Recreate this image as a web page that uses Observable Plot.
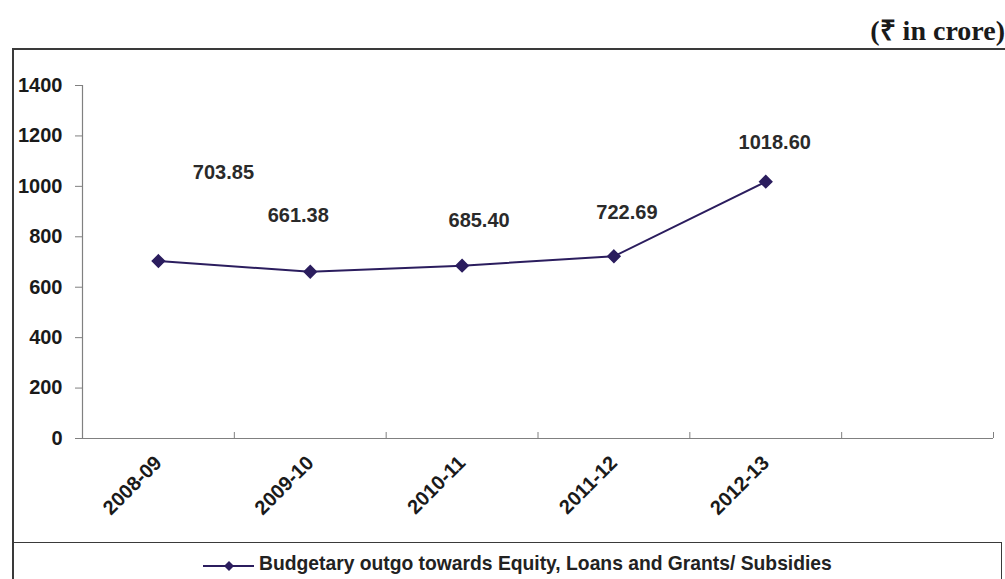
<!DOCTYPE html>
<html>
<head>
<meta charset="utf-8">
<script src="https://cdn.jsdelivr.net/npm/d3@7"></script>
<script src="https://cdn.jsdelivr.net/npm/@observablehq/plot@0.6"></script>
<style>
  html, body { margin: 0; padding: 0; background: #fff; overflow: hidden; }
  #wrap { position: relative; width: 1005px; height: 579px; overflow: hidden; font-family: "Liberation Sans", Arial, sans-serif; }
  #title { position: absolute; right: 0px; top: 10px; font-family: "Liberation Serif", "Times New Roman", serif; font-weight: bold; font-size: 28px; color: #1a1a1a; white-space: nowrap; }
  #frame { position: absolute; left: 12px; top: 48px; width: 1010px; height: 600px; border: 2px solid #3a3a3a; box-sizing: border-box; }
  #chart { position: absolute; left: 0; top: 0; }
  #legend { position: absolute; left: 12px; top: 542px; width: 990px; height: 60px; border: 1.5px solid #3a3a3a; box-sizing: border-box; }
  #legend svg { position: absolute; left: 189px; top: 16px; }
  #legend span { position: absolute; left: 246px; top: 10px; font-weight: bold; font-size: 19.3px; color: #222; white-space: nowrap; }
  #chart svg [aria-label^="y-axis"] line, #chart svg [aria-label^="y-axis"] path { stroke: #808080; }
</style>
</head>
<body>
<div id="wrap">
  <div id="frame"></div>
  <div id="title"></div>
  <div id="chart"></div>
  <div id="legend"></div>
</div>
<script>
const years = ["2008-09", "2009-10", "2010-11", "2011-12", "2012-13"];
const outgo = [703.85, 661.38, 685.40, 722.69, 1018.60];
const yTicks = [0, 200, 400, 600, 800, 1000, 1200, 1400];
const titleText = "(\u20B9 in crore)";
const seriesName = "Budgetary outgo towards Equity, Loans and Grants/ Subsidies";
const emptySlots = 1; // one empty category slot after the last year

// layout constants (not data)
const W = 1005, H = 579;
const M = {left: 82, right: 12, top: 85, bottom: 141};
const labelOffsets = [[65, -88], [-12, -56], [17, -45], [13, -44], [9, -39]];
const lineColor = "#2b1d5e";

const data = years.map((y, i) => ({i, year: y, value: outgo[i]}));
const nSlots = years.length + emptySlots;
const boundaries = d3.range(nSlots + 1).map(k => k - 0.5);
const plotH = H - M.top - M.bottom;
const yMax = yTicks[yTicks.length - 1];
const tickLen = 6 * yMax / plotH;

const marks = [
  Plot.ruleY([0], {stroke: "#808080", strokeWidth: 1.2}),
  Plot.ruleX([boundaries[0]], {y1: 0, y2: yMax, stroke: "#808080", strokeWidth: 1.2}),
  Plot.ruleX(boundaries.slice(1), {y1: 0, y2: tickLen, stroke: "#808080"}),
  Plot.text(data, {x: "i", y: 0, text: "year", rotate: -45, textAnchor: "end", dx: 0, dy: 21, fill: "#1a1a1a", fontWeight: "bold", fontSize: 20}),
  Plot.line(data, {x: "i", y: "value", stroke: lineColor, strokeWidth: 2}),
  Plot.dot(data, {x: "i", y: "value", symbol: "diamond2", r: 5.5, fill: lineColor, stroke: lineColor}),
  ...data.map((d, k) => Plot.text([d], {
    x: "i", y: "value", text: v => v.value.toFixed(2),
    dx: labelOffsets[k][0], dy: labelOffsets[k][1],
    fill: "#2a2a2a", fontWeight: "bold", fontSize: 20
  }))
];

const chart = Plot.plot({
  width: W, height: H,
  marginLeft: M.left, marginRight: M.right, marginTop: M.top, marginBottom: M.bottom,
  style: {background: "transparent", fontFamily: "'Liberation Sans', Arial, sans-serif", fontSize: "20px", fontWeight: "bold", color: "#1a1a1a", overflow: "visible"},
  x: {type: "linear", domain: [boundaries[0], boundaries[boundaries.length - 1]], axis: null},
  y: {domain: [0, yMax], ticks: yTicks, tickSize: 7, tickPadding: 13, tickFormat: d => String(d), label: null},
  marks
});
document.getElementById("chart").appendChild(chart);
document.getElementById("title").textContent = titleText;

// legend
const leg = document.getElementById("legend");
const ns = "http://www.w3.org/2000/svg";
const lsvg = document.createElementNS(ns, "svg");
lsvg.setAttribute("width", 54); lsvg.setAttribute("height", 14);
const ln = document.createElementNS(ns, "line");
ln.setAttribute("x1", 1); ln.setAttribute("x2", 52); ln.setAttribute("y1", 7); ln.setAttribute("y2", 7);
ln.setAttribute("stroke", lineColor); ln.setAttribute("stroke-width", 2);
const dm = document.createElementNS(ns, "path");
dm.setAttribute("d", "M27,2 L32,7 L27,12 L22,7 Z"); dm.setAttribute("fill", lineColor);
lsvg.appendChild(ln); lsvg.appendChild(dm);
leg.appendChild(lsvg);
const sp = document.createElement("span");
sp.textContent = seriesName;
leg.appendChild(sp);
</script>
</body>
</html>
